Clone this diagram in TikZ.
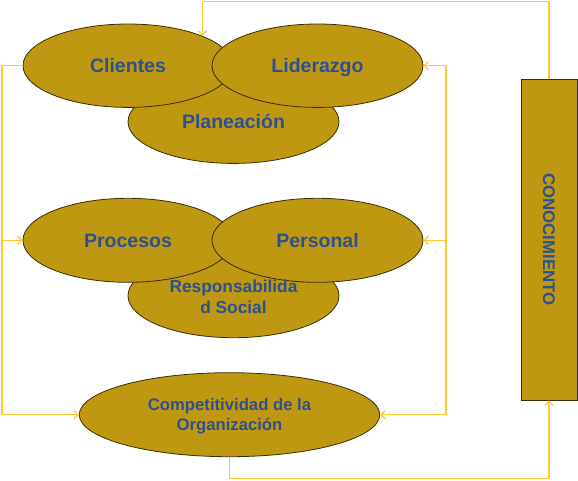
\documentclass[tikz,border=0pt]{standalone}
\usepackage{fontspec}
\setmainfont{Liberation Sans}
\usetikzlibrary{shapes.geometric,arrows.meta}
\definecolor{gold}{HTML}{BE9811}
\definecolor{txtblue}{HTML}{2D5190}
\definecolor{conn}{HTML}{FFC838}
\definecolor{edge}{HTML}{3A2E05}
\tikzset{
  oval/.style={ellipse, draw=edge, line width=0.8pt, fill=gold, inner sep=0pt,
    text=txtblue, font=\bfseries\fontsize{19.5}{23}\selectfont, align=center, text depth=0pt},
  lbl/.style={text=txtblue, align=center, inner sep=0pt},
  link/.style={draw=conn, line width=1.3pt},
  arr/.style={link, -{Straight Barb[length=4pt,width=8pt]}}
}
\begin{document}
\begin{tikzpicture}[x=1pt,y=-1pt]
\useasboundingbox (0,0) rectangle (578,480);
% helper coordinates
\coordinate (L) at (2,0);
\coordinate (R) at (446,0);
\coordinate (T) at (0,1.5);
\coordinate (B) at (0,478.3);
% upper group
\node[oval, minimum width=211pt, minimum height=83.4pt] (plan) at (233.5,121.7) {Planeación};
\node[oval, minimum width=210pt, minimum height=83.4pt] (cli) at (128,65.7) {Clientes};
\node[oval, minimum width=211pt, minimum height=83.4pt] (lid) at (317.5,65.7) {Liderazgo};
% middle group
\node[oval, minimum width=211pt, minimum height=84pt] (resp) at (233.5,295.7) {};
\node[oval, minimum width=210pt, minimum height=84pt] (proc) at (128,240.3) {Procesos};
\node[oval, minimum width=211pt, minimum height=84pt] (pers) at (317.5,240.3) {Personal};
\node[lbl, font=\bfseries\fontsize{17.3}{20.7}\selectfont, text depth=0pt] (resptxt) at (233.5,297) {Responsabilida\\d Social};
% bottom
\node[oval, minimum width=300.5pt, minimum height=84pt, font=\bfseries\fontsize{16.7}{20}\selectfont] (comp) at (229.5,414.7) {Competitividad de la\\Organización};
% knowledge bar
\node[draw=edge, line width=0.8pt, fill=gold, minimum width=56pt, minimum height=321pt, inner sep=0pt] (K) at (549,239.5) {};
\node[lbl, rotate=-90, font=\bfseries\fontsize{16.8}{20}\selectfont] (Ktxt) at (K.center) {CONOCIMIENTO};
% connectors
\draw[arr] (K.north) -- (K.north |- T) -| (cli.north east);
\draw[arr] (cli.west) -- (cli.west -| L) |- (comp.west);
\draw[arr] (proc.west -| L) -- (proc.west);
\draw[arr] (comp.east -| R) |- (lid.east);
\draw[arr] (pers.east -| R) -- (pers.east);
\draw[arr] (comp.east -| R) -- (comp.east);
\draw[arr] (comp.south) -- (comp.south |- B) -| (K.south);
\end{tikzpicture}
\end{document}
